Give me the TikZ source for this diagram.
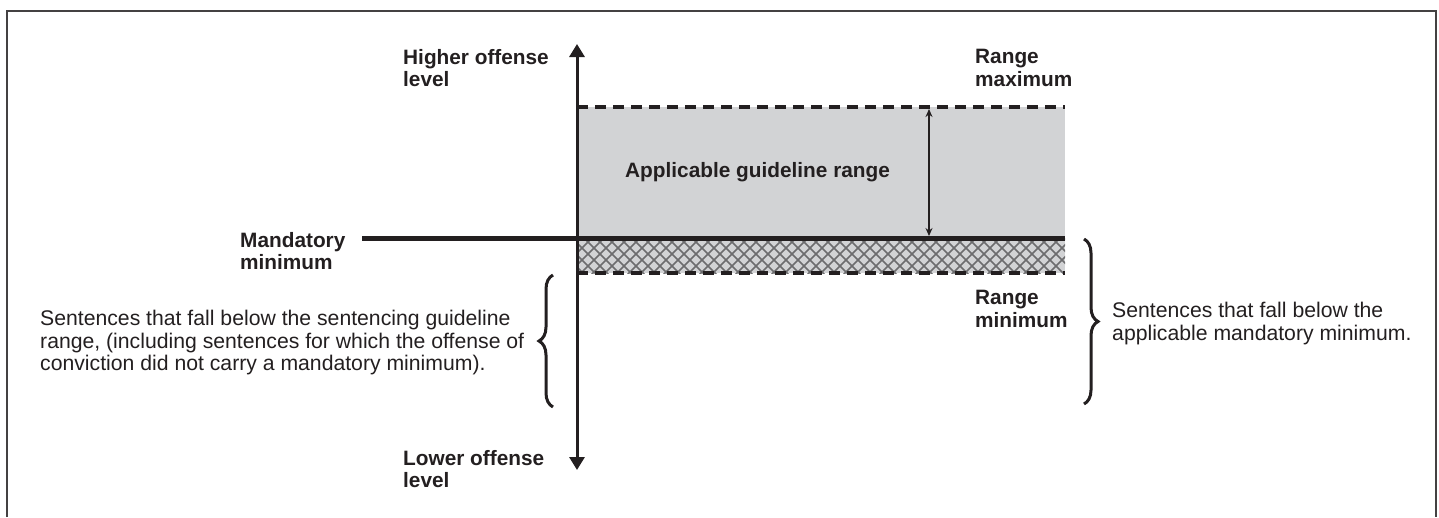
\documentclass[tikz,border=0pt]{standalone}
\usepackage{fontspec}
\setmainfont{Liberation Sans}
\usetikzlibrary{positioning,arrows.meta,decorations.pathreplacing}

\definecolor{inkdark}{RGB}{35,31,32}
\definecolor{rangegray}{RGB}{210,211,213}
\definecolor{hatchgray}{RGB}{108,108,110}

\begin{document}
\begin{tikzpicture}[x=1pt, y=-1pt,
	blabel/.style={font=\bfseries\fontsize{20.8}{22.5}\selectfont, align=left, inner sep=0pt, anchor=north west, text=inkdark},
	tlabel/.style={font=\fontsize{21.2}{22.5}\selectfont, align=left, inner sep=0pt, anchor=north west, text=inkdark},
	dashline/.style={inkdark, line width=3.2pt, dash pattern=on 11pt off 7pt},
	bracket/.style={inkdark, line width=3pt, decorate, decoration={brace, amplitude=14pt}}]
	\useasboundingbox (0,0) rectangle (1439,517);
	\draw[inkdark!85, line width=2.4pt] (7,517) |- (1436,11) -- (1436,517);
	% range boxes
	\fill[rangegray] (577,107) rectangle (1065,273);
	\begin{scope}
		\clip (577,238) rectangle (1065,273);
		\foreach \i in {540,552,...,1100}
			\draw[hatchgray, line width=1.7pt] (\i,230) -- ++(50,50) (\i,230) -- ++(-50,50);
	\end{scope}
	\coordinate (maxl) at (577,107);
	\coordinate (maxr) at (1065,107);
	\coordinate (minl) at (577,273);
	\coordinate (minr) at (1065,273);
	\draw[dashline] (maxl) -- (maxr);
	\draw[dashline] (minl) -- (minr);
	% axis
	\coordinate (axistop) at (577,44);
	\coordinate (axisbot) at (577,470);
	\draw[inkdark, line width=3pt, {Triangle[length=13pt,width=15pt]}-{Triangle[length=13pt,width=15pt]}] (axisbot) -- (axistop);
	% mandatory minimum line
	\coordinate (mandl) at (362,238);
	\coordinate (mandr) at (1065,238);
	\draw[inkdark, line width=5pt] (mandl) -- (mandr);
	\coordinate (spanhi) at (929,109);
	\coordinate (spanlo) at (929,236);
	\draw[inkdark, line width=1.4pt, {Stealth[length=8pt,width=7pt]}-{Stealth[length=8pt,width=7pt]}] (spanlo) -- (spanhi);
	% labels
	\node[blabel] (higher) at (403,49) {Higher offense\\level};
	\node[blabel] (rangemax) at (975,49) {Range\\maximum};
	\node[blabel] (applicable) at (625,162) {Applicable guideline range};
	\node[blabel] (mandmin) at (240,232) {Mandatory\\minimum};
	\node[blabel] (rangemin) at (975,290) {Range\\minimum};
	\node[blabel] (lower) at (403,450) {Lower offense\\level};
	% braces
	\coordinate (lbrlo) at (553,407);
	\coordinate (lbrhi) at (553,275);
	\coordinate (rbrhi) at (1084,239);
	\coordinate (rbrlo) at (1084,404);
	\draw[bracket] (lbrlo) -- (lbrhi);
	\draw[bracket] (rbrhi) -- (rbrlo);
	\node[tlabel] (belowguide) at (40,310) {Sentences that fall below the sentencing guideline\\range, (including sentences for which the offense of\\conviction did not carry a mandatory minimum).};
	\node[tlabel] (belowmand) at (1112,302) {Sentences that fall below the\\applicable mandatory minimum.};
\end{tikzpicture}
\end{document}
